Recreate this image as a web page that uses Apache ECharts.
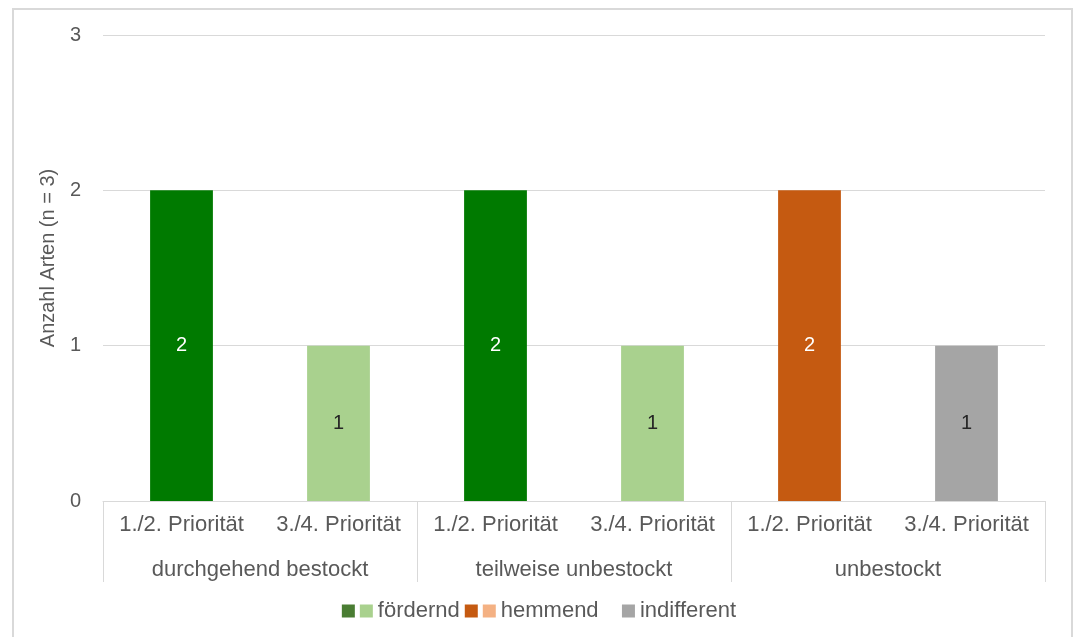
<!DOCTYPE html>
<html>
<head>
<meta charset="utf-8">
<script src="https://cdn.jsdelivr.net/npm/echarts@6/dist/echarts.min.js"></script>
<style>
  html, body { margin: 0; padding: 0; background: #ffffff; }
  #chart { width: 1078px; height: 637px; }
</style>
</head>
<body>
<div id="chart"></div>
<script>
// Categories: priority classes nested in stand types
const priorities = ['1./2. Priorität', '3./4. Priorität', '1./2. Priorität', '3./4. Priorität', '1./2. Priorität', '3./4. Priorität'];
const standTypes = ['durchgehend bestockt', 'teilweise unbestockt', 'unbestockt'];
const yTicks = [0, 1, 2, 3];

// Number of species per category, split by effect and priority
const foerderndHigh = [2, null, 2, null, null, null];
const foerderndLow  = [null, 1, null, 1, null, null];
const hemmendHigh   = [null, null, null, null, 2, null];
const hemmendLow    = [null, null, null, null, null, null];
const indifferent   = [null, null, null, null, null, 1];

const FONT = '"Liberation Sans", Arial, sans-serif';
const TEXT = '#595959';
const LINE = '#d9d9d9';

// Legend labels: each effect shows two swatches (high / low priority) and one label
const legendText = {
  'fördernd 1./2.': '',
  'fördernd 3./4.': 'fördernd',
  'hemmend 1./2.': '',
  'hemmend 3./4.': 'hemmend\u00a0\u00a0\u00a0',
  'indifferent': 'indifferent'
};

function barSeries(name, values, legendColor, barColor, labelColor) {
  return {
    name: name,
    type: 'bar',
    stack: 'all',
    barWidth: '40%',
    xAxisIndex: 0,
    itemStyle: { color: legendColor },
    data: values.map(v => v == null ? null : { value: v, itemStyle: { color: barColor } }),
    label: {
      show: true,
      position: 'inside',
      color: labelColor,
      fontFamily: FONT,
      fontSize: 20
    }
  };
}

const chart = echarts.init(document.getElementById('chart'), null, { renderer: 'canvas' });

chart.setOption({
  animation: false,
  backgroundColor: '#ffffff',
  textStyle: { fontFamily: FONT },
  graphic: [{
    type: 'rect',
    shape: { x: 13, y: 9, width: 1059, height: 640 },
    style: { fill: 'none', stroke: LINE, lineWidth: 2 },
    silent: true,
    z: -10
  }],
  grid: { left: 103, right: 33, top: 35, bottom: 136 },
  legend: {
    bottom: 10,
    left: 'center',
    itemWidth: 13,
    itemHeight: 13,
    itemGap: 5,
    icon: 'rect',
    textStyle: { color: TEXT, fontFamily: FONT, fontSize: 22 },
    formatter: name => legendText[name],
    data: ['fördernd 1./2.', 'fördernd 3./4.', 'hemmend 1./2.', 'hemmend 3./4.', 'indifferent']
  },
  xAxis: [
    {
      type: 'category',
      data: priorities,
      position: 'bottom',
      axisLine: { show: true, lineStyle: { color: LINE, width: 1 } },
      axisTick: { show: false },
      axisLabel: { color: TEXT, fontFamily: FONT, fontSize: 22, margin: 13, interval: 0 }
    },
    {
      type: 'category',
      data: standTypes,
      position: 'bottom',
      offset: 0,
      axisLine: { show: false },
      axisTick: { show: true, length: 81, lineStyle: { color: LINE, width: 1 } },
      axisLabel: { color: TEXT, fontFamily: FONT, fontSize: 22, margin: 58, interval: 0 }
    }
  ],
  yAxis: {
    type: 'value',
    min: yTicks[0],
    max: yTicks[yTicks.length - 1],
    interval: 1,
    name: 'Anzahl Arten (n = 3)',
    nameLocation: 'middle',
    nameRotate: 90,
    nameGap: 44,
    nameTextStyle: { color: TEXT, fontFamily: FONT, fontSize: 20, padding: [0, 0, 0, 20] },
    axisLine: { show: false },
    axisTick: { show: false },
    axisLabel: { color: TEXT, fontFamily: FONT, fontSize: 20, margin: 22 },
    splitLine: { lineStyle: { color: LINE, width: 1 } }
  },
  series: [
    barSeries('fördernd 1./2.', foerderndHigh, '#4a7d33', '#007a00', '#ffffff'),
    barSeries('fördernd 3./4.', foerderndLow, '#a9d18e', '#a9d18e', '#262626'),
    barSeries('hemmend 1./2.', hemmendHigh, '#c55a11', '#c55a11', '#ffffff'),
    barSeries('hemmend 3./4.', hemmendLow, '#f4b183', '#f4b183', '#262626'),
    barSeries('indifferent', indifferent, '#a5a5a5', '#a5a5a5', '#262626')
  ]
});
</script>
</body>
</html>
